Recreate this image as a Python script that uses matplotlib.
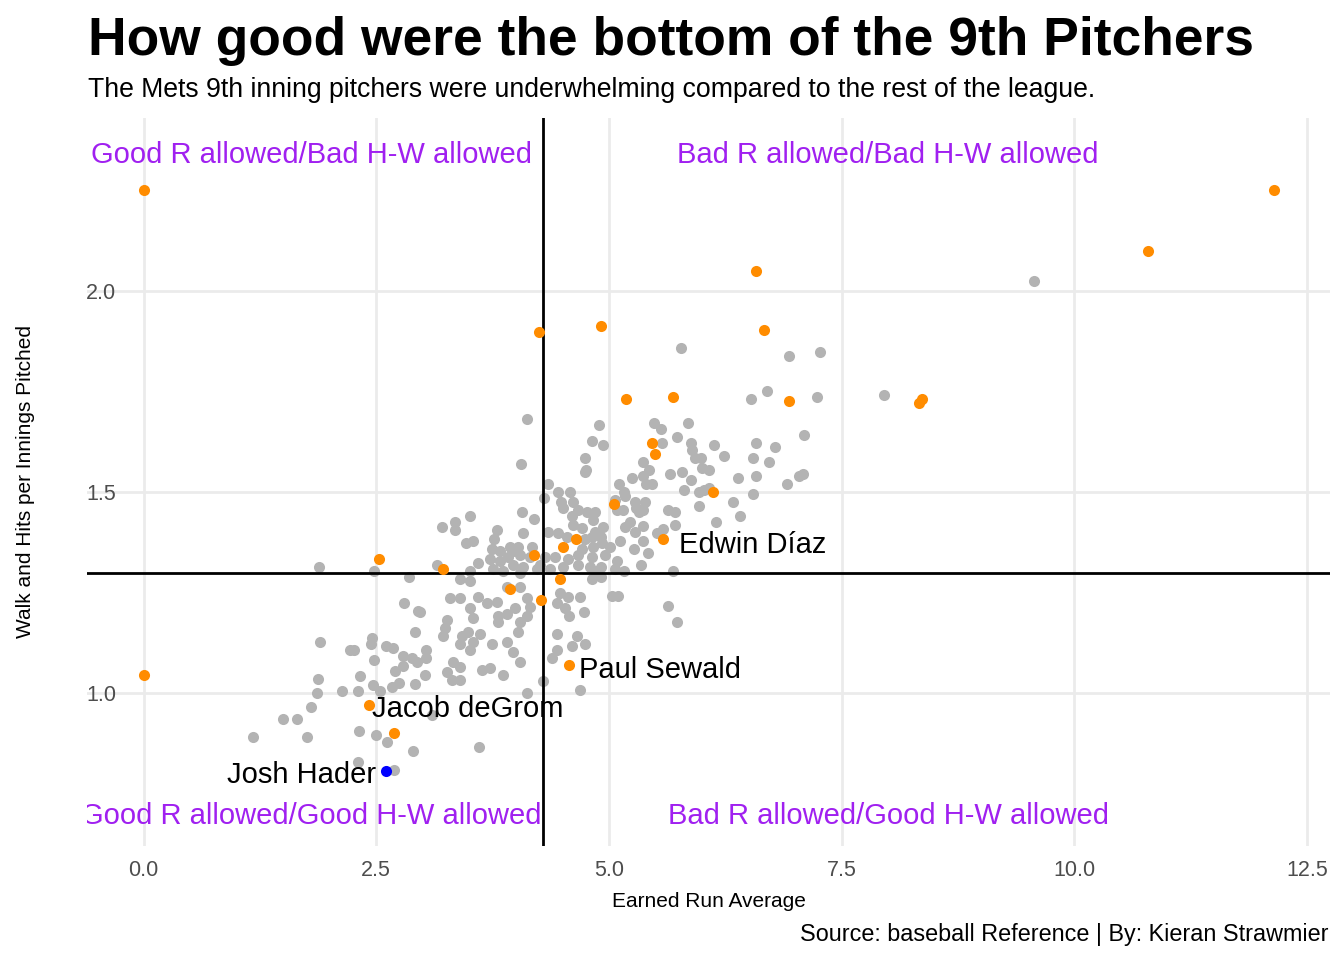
import matplotlib
matplotlib.use("Agg")
import matplotlib.pyplot as plt
import matplotlib.transforms as mtransforms
import numpy as np

plt.rcParams['font.family'] = ['Liberation Sans', 'DejaVu Sans']

# ---- data: (ERA, WHIP) ----
grey_pts = [
(9.57,2.027),(7.96,1.741),(5.77,1.858),(6.93,1.838),(7.27,1.850),(6.53,1.733),(6.70,1.751),(7.24,1.736),
(4.12,1.683),(4.06,1.571),(4.89,1.666),(4.82,1.626),(4.94,1.616),(4.74,1.584),(4.75,1.556),
(5.48,1.673),(5.56,1.658),(5.85,1.671),(5.73,1.638),(5.57,1.621),(5.88,1.623),(6.13,1.618),(6.58,1.623),
(6.78,1.613),(7.10,1.643),(5.89,1.606),(5.92,1.586),(5.99,1.584),(6.24,1.589),(6.55,1.586),(6.72,1.574),
(5.37,1.574),(5.43,1.554),(5.25,1.534),(5.37,1.541),(5.40,1.519),(5.46,1.519),(5.66,1.546),(5.79,1.549),
(5.88,1.531),(6.00,1.561),(6.07,1.556),(6.39,1.536),(6.58,1.539),(6.91,1.519),(7.04,1.539),(7.09,1.544),
(5.11,1.519),(5.16,1.501),(5.81,1.504),(5.97,1.501),(6.02,1.506),(6.07,1.509),(6.55,1.494),(6.33,1.474),
(5.97,1.466),(6.41,1.441),(6.15,1.426),(5.64,1.456),(5.71,1.451),(5.29,1.461),(5.37,1.456),(5.32,1.449),
(5.23,1.426),(5.17,1.414),(5.37,1.416),(5.71,1.419),(5.58,1.409),(5.07,1.481),(4.94,1.414),
(4.74,1.551),(4.35,1.519),(4.45,1.499),(4.58,1.501),(4.48,1.476),(4.51,1.461),(4.61,1.474),(4.67,1.456),
(4.77,1.449),(4.85,1.449),(4.83,1.431),(4.60,1.439),(4.61,1.419),(4.71,1.411),(4.85,1.401),(4.91,1.389),
(4.82,1.389),(4.74,1.382),(4.35,1.401),(4.45,1.399),(4.71,1.357),(4.83,1.364),(4.93,1.374),(5.01,1.364),
(5.12,1.377),(4.67,1.344),(4.82,1.339),(4.96,1.344),(5.09,1.327),(5.16,1.304),(4.56,1.332),(4.42,1.337),
(4.31,1.337),(4.26,1.319),(4.37,1.307),(4.51,1.314),(4.67,1.319),(4.80,1.314),(4.91,1.314),(5.09,1.456),
(5.15,1.456),(5.28,1.401),(5.37,1.379),(5.27,1.357),(5.42,1.349),(5.17,1.489),(5.28,1.474),(5.39,1.474),
(5.07,1.307),(5.34,1.319),(4.30,1.486),(4.55,1.387),
(3.21,1.414),(3.35,1.426),(3.35,1.406),(3.51,1.439),(3.46,1.374),(3.54,1.377),(3.80,1.406),(3.77,1.382),
(4.07,1.449),(4.20,1.434),(4.08,1.399),(4.17,1.364),(4.02,1.362),(3.94,1.362),(3.74,1.357),(3.83,1.354),
(3.97,1.352),(4.04,1.344),(3.92,1.339),(4.15,1.337),(3.59,1.324),(3.72,1.332),(3.83,1.327),(3.97,1.319),
(4.08,1.312),(3.15,1.319),(3.75,1.307),(3.51,1.302),(3.86,1.302),(4.04,1.299),(4.23,1.307),
(3.40,1.282),(3.51,1.277),(3.29,1.237),(3.40,1.237),(3.59,1.239),(3.69,1.224),(3.80,1.227),(3.51,1.212),
(3.54,1.187),(3.26,1.182),(3.24,1.162),(3.22,1.140),(3.42,1.140),(3.49,1.150),(3.61,1.145),(3.40,1.120),
(3.51,1.107),(3.54,1.127),(3.74,1.120),(3.90,1.127),(3.81,1.190),(3.90,1.195),(3.81,1.175),(3.99,1.212),
(4.12,1.190),(4.04,1.175),(4.02,1.150),(3.97,1.100),(4.04,1.075),(3.86,1.045),(3.72,1.062),(3.64,1.057),
(3.32,1.077),(3.40,1.065),(3.26,1.052),(3.31,1.032),(3.40,1.032),(3.03,1.105),(3.03,1.085),(3.02,1.045),
(2.97,1.202),(3.90,1.264),(4.04,1.262),(4.12,1.237),(4.15,1.214),
(4.47,1.249),(4.44,1.224),(4.56,1.239),(4.69,1.239),(4.53,1.212),(4.57,1.190),(4.73,1.202),(5.03,1.242),
(5.10,1.242),(4.82,1.284),(4.87,1.302),(4.44,1.145),(4.66,1.140),(4.74,1.120),(4.60,1.117),(4.44,1.105),
(4.39,1.087),(4.69,1.007),(4.12,1.000),(4.29,1.030),
(5.69,1.302),(4.91,1.289),(5.64,1.217),(5.73,1.175),(5.52,1.399),
(1.89,1.312),(2.48,1.302),(2.85,1.289),(2.80,1.224),(2.95,1.204),(2.92,1.152),(1.90,1.125),(2.46,1.137),
(2.44,1.122),(2.22,1.105),(2.26,1.107),(2.61,1.115),(2.68,1.112),(2.79,1.092),(2.88,1.087),(2.48,1.080),
(2.70,1.055),(2.79,1.067),(2.94,1.075),(2.33,1.042),(1.87,1.035),(2.47,1.020),(2.67,1.015),(2.75,1.025),
(2.92,1.022),(1.86,1.000),(2.13,1.005),(2.30,1.005),(2.54,1.005),(1.80,0.965),(1.50,0.933),(1.65,0.933),
(3.10,0.945),(1.18,0.890),(1.76,0.890),(2.31,0.903),(2.50,0.895),(2.62,0.878),(2.89,0.855),(2.30,0.828),
(2.69,0.808),(3.60,0.865),
]
grey_era = [p[0] for p in grey_pts]
grey_whip = [p[1] for p in grey_pts]

orange_era = [0.00, 0.00, 12.14, 10.79, 6.58, 4.91, 4.25, 6.67, 5.18, 5.69, 6.94, 8.33, 8.36,
              5.46, 5.50, 5.06, 6.12, 5.58, 4.65, 4.51, 4.20, 2.53, 3.22, 4.47, 3.94, 4.27,
              4.57, 2.42, 2.69]
orange_whip = [2.252, 1.045, 2.252, 2.102, 2.052, 1.913, 1.898, 1.903, 1.733, 1.736, 1.728, 1.723, 1.733,
               1.621, 1.594, 1.471, 1.501, 1.382, 1.382, 1.364, 1.342, 1.334, 1.309, 1.282, 1.257, 1.232,
               1.070, 0.970, 0.900]

blue_era = [2.61]
blue_whip = [0.805]

league_era = 4.29
league_whip = 1.297

player_names = ["Edwin Díaz", "Paul Sewald", "Jacob deGrom", "Josh Hader"]
player_x = [5.75, 4.68, 2.46, 2.50]
player_y = [1.377, 1.065, 0.968, 0.803]
player_ha = ["left", "left", "left", "right"]

quad_labels = ["Good R allowed/Bad H-W allowed", "Bad R allowed/Bad H-W allowed",
               "Good R allowed/Good H-W allowed", "Bad R allowed/Good H-W allowed"]
quad_x = [1.8, 8.0, 1.8, 8.0]
quad_y = [2.35, 2.35, 0.70, 0.70]

x_ticks = [0.0, 2.5, 5.0, 7.5, 10.0, 12.5]
y_ticks = [1.0, 1.5, 2.0]

# ---- figure ----
fig = plt.figure(figsize=(13.44, 9.6), dpi=100)
ax = fig.add_axes([87/1344, 1-846/960, (1330-87)/1344, (846-118)/960])

all_x = grey_era + orange_era + blue_era + quad_x
all_y = grey_whip + orange_whip + blue_whip + quad_y
xmin, xmax = min(all_x), max(all_x)
ymin, ymax = min(all_y), max(all_y)
ax.set_xlim(xmin - 0.05*(xmax-xmin), xmax + 0.05*(xmax-xmin))
ax.set_ylim(ymin - 0.05*(ymax-ymin), ymax + 0.05*(ymax-ymin))

ax.set_xticks(x_ticks)
ax.set_yticks(y_ticks)
ax.set_xticklabels([f"{v:.1f}" for v in x_ticks])
ax.set_yticklabels([f"{v:.1f}" for v in y_ticks])
ax.grid(True, color='#EBEBEB', linewidth=2.0, zorder=0)
ax.set_axisbelow(True)
for s in ax.spines.values():
    s.set_visible(False)
ax.tick_params(length=0, labelsize=15.5, labelcolor='#4D4D4D')
ax.tick_params(axis='x', pad=10)
ax.tick_params(axis='y', pad=-21)

ax.scatter(grey_era, grey_whip, s=64, color='#B3B3B3', linewidths=0, zorder=2)
ax.axvline(league_era, color='black', linewidth=2.0, zorder=3)
ax.axhline(league_whip, color='black', linewidth=2.0, zorder=3)
ax.scatter(orange_era, orange_whip, s=64, color='#FF8C00', linewidths=0, zorder=4)
ax.scatter(blue_era, blue_whip, s=64, color='#0000FF', linewidths=0, zorder=5)

txt_tr = mtransforms.offset_copy(ax.transData, fig=fig, x=0, y=-3.5, units='dots')

for name, x, y, ha in zip(player_names, player_x, player_y, player_ha):
    ax.text(x, y, name, ha=ha, va='center', fontsize=21, color='black', zorder=6,
            transform=txt_tr)

for lab, x, y in zip(quad_labels, quad_x, quad_y):
    ax.text(x, y, lab, ha='center', va='center', fontsize=21, color='#A020F0',
            clip_on=True, zorder=6, transform=txt_tr)

ax.set_xlabel("Earned Run Average", fontsize=15, labelpad=8)
ax.set_ylabel("Walk and Hits per Innings Pitched", fontsize=15)
ax.yaxis.set_label_coords((25 - 87) / 1243, 0.5)
ax.yaxis.label.set_va('center')

fig.text(88/1344, 1-55/960, "How good were the bottom of the 9th Pitchers",
         fontsize=38.4, fontweight='bold', ha='left', va='baseline')
fig.text(88/1344, 1-97/960,
         "The Mets 9th inning pitchers were underwhelming compared to the rest of the league.",
         fontsize=19.2, ha='left', va='baseline')
fig.text(1328/1344, 1-941/960, "Source: baseball Reference | By: Kieran Strawmier",
         fontsize=16.8, ha='right', va='baseline')

fig.savefig("out.png", dpi=100)
